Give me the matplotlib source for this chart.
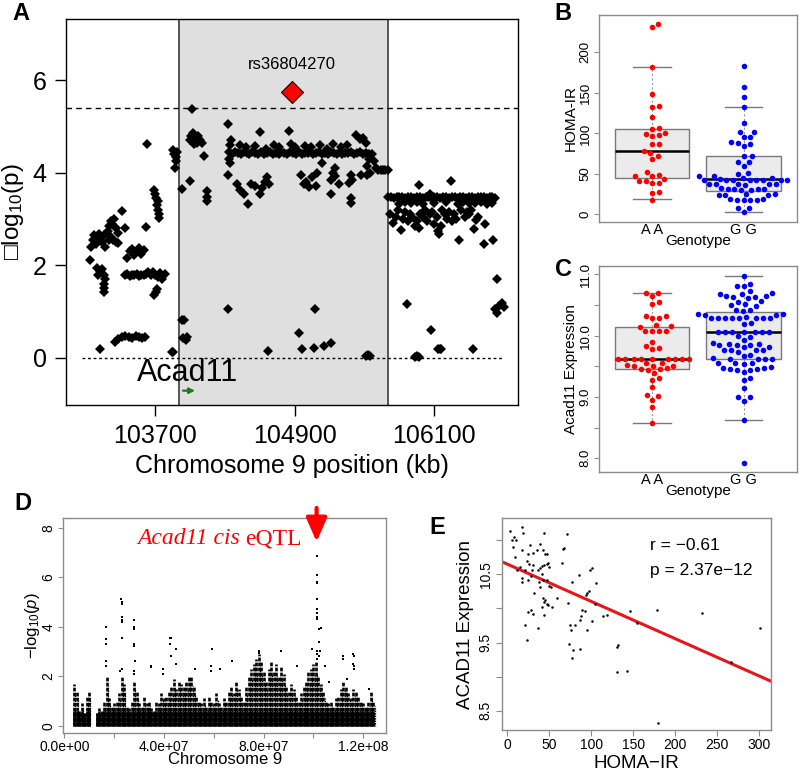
import matplotlib
matplotlib.use('Agg')
import matplotlib.pyplot as plt
import numpy as np

plt.rcParams['font.family'] = ['Liberation Sans', 'DejaVu Sans']
plt.rcParams['mathtext.fontset'] = 'custom'
plt.rcParams['mathtext.rm'] = 'Liberation Sans'
plt.rcParams['mathtext.it'] = 'Liberation Sans:italic'

# ---------------- Panel A data (kb, -log10 p) ----------------
snp_pos = [
    103138, 103150, 103160, 103175, 103190, 103205, 103220, 103240, 103255, 103270,
    103195, 103210, 103225, 103240, 103255, 103265, 103260, 103258, 103262,
    103290, 103305, 103315, 103330, 103345, 103360, 103375, 103320, 103340, 103360, 103380, 103300,
    103410, 103440, 103455,
    103480, 103500, 103520, 103540, 103560, 103580, 103600,
    103440, 103460, 103480, 103500, 103520, 103540, 103560, 103580, 103600, 103620, 103640, 103660,
    103680, 103700, 103720, 103740, 103760, 103780,
    103625, 103620,
    103690, 103700, 103710, 103720, 103715, 103725, 103730, 103735,
    103690, 103705, 103715,
    103224, 103350, 103380, 103410, 103440, 103470, 103500, 103530, 103560, 103590, 103610,
    103840, 103855,
    103855, 103865, 103875, 103880, 103870, 103890,
    103930, 103930, 103950, 103940, 103960, 103975,
    103998, 104018,
    104000, 104010, 104025, 104040, 104055, 104070, 104085, 104100, 104030,
    104119, 104142, 104145, 104148,
    104322,
    104328, 104330, 104335, 104340, 104345, 104350, 104325,
    104360, 104385, 104410, 104435, 104460, 104485, 104510, 104535, 104560, 104585, 104610, 104635,
    104660, 104685, 104710, 104735, 104760, 104785, 104810, 104835, 104860, 104885, 104910, 104935,
    104960, 104985, 105010, 105035, 105060, 105085, 105110, 105135, 105160, 105185, 105210, 105235,
    105260, 105285, 105310, 105335, 105360, 105385, 105410, 105435, 105460, 105485, 105510, 105535,
    104430, 104480, 104600, 104560, 104650, 104720, 104760, 104850, 104870, 104900, 104990, 105040,
    105120, 105180, 105230, 105300, 105350, 105423, 105460, 105490, 105510,
    104400, 104430, 104460, 104500, 104520, 104560, 104600, 104620, 104640, 104660, 104680,
    104936, 104964, 105065, 105073, 105151, 105208, 104672,
    104950, 104980, 105000, 105020, 105050, 105093, 105080,
    105136, 105208, 105210, 105230, 105250, 105280, 105250,
    105366, 105380, 105394, 105380, 105385,
    105466, 105523, 105540, 105560, 105580, 105600, 105620, 105640, 105660, 105680, 105700, 105520, 105545,
    105509, 105530, 105550,
    105700, 105725, 105750, 105775, 105800, 105825, 105850, 105875, 105900, 105925, 105950, 105975,
    106000, 106025, 106050, 106075, 106100, 106125, 106150, 106175, 106200, 106225, 106250, 106275,
    106300, 106325, 106350, 106375, 106400, 106425, 106450, 106475, 106500, 106525, 106550, 106575,
    106600, 106625,
    105800, 105850, 105900, 105950, 106000, 106100, 106200, 106300, 106350, 106400, 106450, 106500,
    106550, 106600,
    105720, 105749, 105770, 105790, 105815, 105830, 105850, 105870, 105890, 105910, 105930, 105950,
    105966, 105980, 106000, 106020, 106040, 106060, 106080, 106100, 106120, 106128, 106140, 106157,
    106170, 106190, 106210, 106230, 106250, 106270, 106290, 106309, 106330, 106360, 106380, 106400,
    106420, 106438, 106460, 106480, 106524, 106540, 106604,
    105966, 106244, 106060,
    106638, 106624, 106640, 106660, 106680, 106696, 105867, 106071, 105936, 105950, 105965,
    106128, 106145, 106157, 106432,
]
snp_logp = [
    2.11, 2.40, 2.55, 2.65, 2.45, 2.62, 2.68, 2.50, 2.66, 2.40,
    1.93, 1.80, 1.88, 1.92, 1.80, 1.70, 1.60, 1.50, 1.42,
    2.75, 2.85, 2.95, 2.90, 3.00, 2.80, 2.70, 2.60, 2.55, 2.50, 2.48, 2.55,
    3.17, 2.80, 2.15,
    2.30, 2.35, 2.22, 2.30, 2.38, 2.25, 2.32,
    1.78, 1.82, 1.76, 1.80, 1.78, 1.82, 1.76, 1.80, 1.78, 1.82, 1.85, 1.78,
    1.86, 1.80, 1.75, 1.84, 1.70, 1.82,
    4.63, 2.83,
    3.62, 3.55, 3.45, 3.38, 3.30, 3.20, 3.10, 3.02,
    1.35, 1.42, 1.48,
    0.18, 0.35, 0.40, 0.45, 0.48, 0.45, 0.42, 0.47, 0.45, 0.42, 0.44,
    0.12, 0.13,
    4.50, 4.40, 4.35, 4.25, 4.10, 4.45,
    3.65, 0.82, 0.82, 0.42, 0.38, 0.45,
    3.83, 5.38,
    4.70, 4.80, 4.85, 4.75, 4.65, 4.80, 4.70, 4.65, 4.62,
    4.37, 3.60, 3.48, 3.38,
    1.06,
    5.06, 4.45, 4.30, 4.20, 4.60, 4.70, 3.95,
    4.40, 4.44, 4.42, 4.40, 4.45, 4.42, 4.40, 4.44, 4.42, 4.41, 4.44, 4.40,
    4.42, 4.45, 4.41, 4.43, 4.40, 4.44, 4.42, 4.40, 4.45, 4.42, 4.41, 4.44,
    4.40, 4.43, 4.42, 4.45, 4.40, 4.42, 4.44, 4.41, 4.43, 4.40, 4.44, 4.42,
    4.41, 4.45, 4.40, 4.43, 4.42, 4.44, 4.40, 4.42, 4.45, 4.41, 4.43, 4.40,
    4.60, 4.55, 4.88, 4.58, 4.52, 4.60, 4.55, 4.90, 4.62, 4.55, 4.58, 4.55,
    4.60, 4.52, 4.62, 4.55, 4.60, 4.82, 4.72, 4.75, 4.65,
    3.75, 3.62, 3.55, 3.32, 3.75, 3.72, 3.55, 3.68, 3.80, 3.90, 3.75,
    0.53, 0.20, 0.22, 1.06, 0.26, 0.33, 0.15,
    3.95, 3.75, 3.80, 3.70, 3.90, 4.00, 3.72,
    4.21, 3.55, 3.85, 4.00, 4.10, 3.75, 3.92,
    3.78, 3.95, 3.85, 3.45, 3.35,
    3.96, 4.15, 4.30, 4.40, 4.25, 4.10, 4.05, 4.05, 4.05, 4.05, 4.05, 3.95, 4.00,
    0.04, 0.05, 0.04,
    3.47, 3.48, 3.46, 3.47, 3.48, 3.47, 3.46, 3.48, 3.47, 3.46, 3.48, 3.47,
    3.46, 3.48, 3.47, 3.46, 3.48, 3.47, 3.46, 3.47, 3.48, 3.46, 3.47, 3.48,
    3.46, 3.47, 3.48, 3.46, 3.47, 3.48, 3.46, 3.47, 3.48, 3.47, 3.46, 3.48,
    3.47, 3.46,
    3.33, 3.36, 3.34, 3.37, 3.32, 3.35, 3.36, 3.33, 3.37, 3.34, 3.35, 3.36,
    3.33, 3.35,
    3.10, 2.91, 3.05, 3.20, 2.77, 3.00, 3.15, 2.95, 3.10, 3.05, 2.85, 2.95,
    2.80, 3.10, 3.05, 3.20, 2.95, 3.10, 3.15, 2.90, 3.05, 2.75, 2.68, 2.85,
    3.20, 3.10, 3.00, 3.15, 2.95, 3.10, 3.00, 2.55, 3.20, 3.05, 3.15, 3.10,
    3.20, 2.78, 2.98, 3.05, 2.46, 2.90, 2.55,
    3.73, 3.83, 3.55,
    1.71, 1.05, 0.96, 1.12, 1.18, 1.10, 1.17, 0.61, 0.02, 0.04, 0.02,
    0.18, 0.20, 0.18, 0.18,
]
lead_snp = 'rs36804270'
lead_pos, lead_logp = 104875, 5.75
region_start, region_end = 103904, 105700
sig_threshold = 5.39
gene_name = 'Acad11'
gene_start, gene_end = 103938, 104042

# ---------------- Panel B / C data ----------------
genotypes = ['A A', 'G G']
homa_AA = [231.7, 234.6, 181.5, 148.6, 133, 134, 119.8, 106, 106.6, 100.8, 99.2, 96.7, 97.5,
           86.8, 86.8, 78.6, 76.1, 72, 68.3, 52.7, 47.3, 47.3, 49, 41.2, 41.2, 38.3, 39, 43.2,
           27.6, 25.9, 17.7]
homa_GG = [183, 156.8, 144.4, 133, 113.2, 102, 102, 95, 95, 89.7, 88.5, 84.4, 86.4, 72, 72,
           65, 65, 60, 50.6, 49.8, 47.7, 47.3, 44.4, 42.8, 42.0, 43.6, 42.8, 42.0, 42.0, 42.0,
           42.4, 42.4, 44.4, 37.5, 37, 36.5, 37, 37.5, 37, 31, 30.5, 31.5, 30, 31, 31.5, 32.5,
           24, 23.5, 24, 25, 25, 18.5, 18, 17.5, 18, 18, 18.5, 8, 7.5, 3.3]
homa_box = {'A A': (18.5, 44.4, 78.6, 105.8, 181.5), 'G G': (3.3, 29.2, 43.2, 72.0, 133.0)}

expr_AA = [10.70, 10.65, 10.70, 10.52, 10.54, 10.32, 10.28, 10.32, 10.28, 10.17, 10.16, 10.14,
           10.08, 10.07, 10.07, 10.07, 9.90, 9.83, 9.79, 9.78,
           9.625, 9.625, 9.625, 9.625, 9.625, 9.625, 9.625, 9.625, 9.625,
           9.52, 9.50, 9.55, 9.51, 9.51, 9.56, 9.45, 9.44, 9.46, 9.47, 9.39, 9.30, 9.28, 9.16,
           9.03, 9.02, 8.95, 8.83, 8.58]
expr_GG = [10.97, 10.81, 10.81, 10.84, 10.69, 10.68, 10.68, 10.72, 10.63, 10.56, 10.63, 10.61,
           10.64, 10.64, 10.55, 10.50, 10.51, 10.42, 10.40, 10.48, 10.42, 10.35, 10.29, 10.30,
           10.28, 10.28, 10.28, 10.33, 10.28, 10.28, 10.28, 10.29, 10.34, 10.35, 10.20, 10.19,
           10.06, 10.05, 10.05, 10.05, 10.05, 10.05, 10.05, 10.00, 9.97, 9.93, 9.88, 9.84, 9.81,
           9.82, 9.85, 9.84, 9.87, 9.86, 9.76, 9.76, 9.73, 9.76, 9.76, 9.63, 9.62, 9.62, 9.66,
           9.69, 9.62, 9.62, 9.55, 9.54, 9.55, 9.55, 9.46, 9.47, 9.47, 9.48, 9.46, 9.44, 9.40,
           9.44, 9.28, 9.31, 9.15, 8.99, 9.00, 8.93, 8.63, 7.92]
expr_box = {'A A': (8.576, 9.457, 9.625, 10.136, 10.696), 'G G': (8.63, 9.62, 10.06, 10.38, 10.97)}

# ---------------- Panel D data (Manhattan, chromosome 9) ----------------
manh_bin_mb = [4, 5, 6, 7, 8, 9, 10, 13, 14, 15, 16, 17, 18, 19, 20, 21, 22, 23, 24, 25, 26, 27,
               28, 29, 30, 31, 32, 33, 34, 35, 36, 37, 38, 39, 40, 41, 42, 43, 44, 45, 46, 47, 48,
               49, 50, 51, 52, 53, 54, 55, 56, 57, 58, 59, 60, 61, 62, 63, 64, 65, 66, 67, 68, 69,
               70, 71, 72, 73, 74, 75, 76, 77, 78, 79, 80, 81, 82, 83, 84, 85, 86, 87, 88, 89, 90,
               91, 92, 93, 94, 95, 96, 97, 98, 99, 100, 101, 102, 103, 104, 105, 106, 107, 108,
               109, 110, 111, 112, 113, 114, 115, 116, 117, 118, 119, 120, 121, 122, 123, 124]
manh_bin_top = [1.7, 1.4, 0.6, 0.9, 0.5, 1.2, 1.4, 0.5, 0.7, 0.6, 1.0, 2.0, 1.1, 0.8, 0.9, 1.0,
                1.3, 2.0, 1.7, 0.8, 0.7, 1.0, 1.8, 1.4, 0.9, 0.8, 1.2, 0.9, 1.0, 0.7, 0.6, 1.0,
                0.9, 1.3, 1.1, 1.2, 1.4, 1.6, 1.9, 1.5, 1.8, 1.7, 1.6, 1.8, 2.0, 2.0, 1.6, 1.2,
                1.0, 0.9, 1.1, 0.8, 1.2, 1.0, 0.9, 1.3, 0.9, 0.8, 1.1, 1.0, 1.4, 1.6, 1.3, 1.8,
                1.5, 1.2, 1.0, 1.6, 2.0, 2.3, 2.5, 2.7, 2.9, 2.6, 2.2, 1.8, 2.3, 2.6, 2.2, 2.5,
                2.0, 2.4, 2.1, 1.6, 1.4, 1.7, 1.5, 1.2, 1.0, 1.3, 1.6, 1.8, 2.2, 2.3, 2.5, 2.6,
                2.0, 1.7, 1.4, 1.0, 0.9, 1.0, 0.8, 1.1, 1.2, 1.5, 1.8, 1.6, 1.3, 1.1, 1.5, 1.4,
                1.2, 1.0, 0.9, 0.8, 1.0, 1.4, 1.0]
manh_pt_mb = [16.7, 16.7, 16.8, 16.7, 16.8, 22.5, 22.9, 23.0, 23.1, 23.0, 23.2, 23.1, 23.3, 23.0,
              28.0, 28.1, 28.0, 28.1, 28.0, 28.2, 28.0, 28.1, 34.7, 34.8, 39.5, 39.6,
              42.5, 42.8, 42.6, 42.7, 44.7, 44.8, 52.5, 58.8, 58.9, 59.2, 62.4, 67.2, 78.0, 78.3,
              86.8, 93.5, 99.6, 101.5, 101.5, 101.5, 101.6, 101.5, 101.6, 101.5, 101.6, 101.5,
              101.4, 101.6, 101.5, 102.4, 102.4, 102.5, 102.4, 103.2, 104.5, 106.4, 111.9, 112.0,
              113.5, 116.0, 116.1, 116.0, 116.2, 116.1, 122.3]
manh_pt_logp = [4.0, 3.5, 3.3, 2.6, 2.4, 2.2, 5.1, 5.0, 4.9, 4.4, 4.25, 4.2, 3.55, 2.3,
                4.25, 4.0, 3.9, 3.3, 3.2, 2.6, 2.2, 2.1, 2.4, 2.35, 2.3, 2.1,
                3.55, 3.55, 3.3, 2.8, 3.1, 2.5, 2.3, 2.2, 2.4, 3.1, 2.3, 2.6, 3.0, 2.95,
                3.0, 2.4, 3.1, 6.85, 6.1, 5.8, 5.75, 5.1, 4.7, 4.55, 4.4, 4.3, 2.9, 2.7, 3.0,
                3.9, 3.4, 3.0, 2.8, 3.95, 2.4, 1.75, 2.8, 2.7,
                1.9, 2.9, 2.8, 2.5, 2.4, 2.3, 1.5]
eqtl_label = ('Acad11 cis', 'eQTL')

# ---------------- Panel E data ----------------
homa_ir = [3.2, 5.2, 7.9, 10.3, 7.2, 9.1, 17.1, 19, 11.1, 15, 17.9, 17.9, 17.9, 23, 25, 27, 25, 21,
           26.2, 29, 31, 27.8, 32.2, 25, 27.8, 31, 21, 23, 35, 38.9, 43, 43.7, 45, 47, 37, 38.9,
           41, 43.7, 46.9, 49, 50, 42, 38, 38.9, 41, 47, 50, 51.6, 43, 45, 43.7, 47, 49, 41, 52.8,
           43.7, 37, 59.6, 64.8, 66, 67.5, 70.7, 72.7, 73.9, 74.7, 75.5, 76.7, 77.9, 76.7, 80.6,
           86.6, 87.4, 85.8, 86.6, 88.6, 92.6, 93.8, 95.4, 97.7, 98.5, 100.5, 95.4, 100.5, 104.5,
           105.7, 114.4, 118.4, 132.3, 130.3, 131.1, 143, 146.2, 155, 178.8, 180, 231.6, 266.6,
           301, 30.2]
acad11_expr = [11.14, 11.0, 11.04, 11.0, 10.9, 10.76, 11.2, 11.1, 10.57, 10.6, 10.85, 10.44,
               10.38, 10.7, 10.8, 10.93, 10.42, 10.56, 10.65, 10.56, 10.64, 10.47, 10.23, 9.95,
               9.97, 9.92, 9.76, 9.54, 10.86, 10.95, 10.86, 11.1, 10.8, 10.8, 10.57, 10.59,
               10.62, 10.64, 10.65, 10.66, 10.6, 10.41, 10.39, 10.31, 10.5, 10.42, 10.33, 10.32,
               10.15, 10.12, 10.1, 10.07, 10.05, 10.02, 10.02, 9.9, 9.71, 10.15, 10.66, 10.87,
               10.88, 11.09, 10.08, 9.48, 9.76, 9.68, 10.39, 9.39, 9.27, 9.76, 9.83, 9.89, 10.49,
               9.41, 9.97, 9.96, 10.2, 10.22, 10.25, 10.57, 10.59, 9.69, 9.82, 10.06, 10.37,
               9.89, 9.9, 9.46, 9.44, 9.07, 9.08, 9.96, 9.78, 9.98, 8.32, 9.94, 9.22, 9.72, 10.81]
fit_intercept, fit_slope = 10.649, -0.005455
corr_text = ['r = \u22120.61', 'p = 2.37e\u221212']

# =====================================================================
fig = plt.figure(figsize=(8, 7.75), dpi=100)
GRAY = '#8c8c8c'


def swarm_x(ax, values, center, diam_px):
    yv = np.asarray(values, float)
    pts = ax.transData.transform(np.column_stack([np.full_like(yv, center), yv]))
    ypix = pts[:, 1]
    x0 = pts[0, 0]
    order = np.argsort(ypix, kind='stable')
    px_l, py_l = [], []
    xoff = np.zeros(len(yv))
    for i in order:
        y = ypix[i]
        cands = [0.0]
        for a, b in zip(px_l, py_l):
            dy = abs(y - b)
            if dy < diam_px:
                dx = np.sqrt(diam_px ** 2 - dy ** 2)
                cands += [a + dx, a - dx]
        cands.sort(key=abs)
        chosen = cands[-1]
        for c in cands:
            if all((c - a) ** 2 + (y - b) ** 2 >= diam_px ** 2 - 1e-6 for a, b in zip(px_l, py_l)):
                chosen = c
                break
        px_l.append(chosen)
        py_l.append(y)
        xoff[i] = chosen
    back = ax.transData.inverted().transform(np.column_stack([x0 + xoff, ypix]))
    return back[:, 0]


# ---------------- Panel A ----------------
axA = fig.add_axes([0.0825, 0.4774, 0.565, 0.498])
axA.set_xlim(102932, 106820)
axA.set_ylim(-1.02, 7.32)
axA.axvspan(region_start, region_end, color='#dfdfdf', zorder=0, lw=0)
for xv in (region_start, region_end):
    axA.axvline(xv, color='#555555', lw=1.4, zorder=1)
axA.axhline(sig_threshold, color='k', lw=1, ls=(0, (4, 3)), zorder=1)
axA.plot([103067, 106682], [0, 0], color='k', lw=1, ls=(0, (2, 2)), zorder=1)
axA.plot(snp_pos, snp_logp, 'D', ms=5.2, color='k', mew=0, zorder=3)
axA.plot([lead_pos], [lead_logp], 'D', ms=11.5, mfc='red', mec='k', mew=0.8, zorder=4)
axA.text(lead_pos, 6.33, lead_snp, ha='center', va='center', fontsize=12)
axA.text(103981, -0.33, gene_name, ha='center', va='center', fontsize=22)
axA.annotate('', xy=(gene_end, -0.71), xytext=(gene_start, -0.71),
             arrowprops=dict(arrowstyle='-|>', color='#1f7a1f', lw=1.6, mutation_scale=8,
                             shrinkA=0, shrinkB=0))
axA.set_xticks([103700, 104900, 106100])
axA.set_yticks([0, 2, 4, 6])
axA.tick_params(length=8, width=1, labelsize=18, pad=6)
for s in axA.spines.values():
    s.set_linewidth(1)
axA.set_xlabel('Chromosome 9 position (kb)', fontsize=18)
axA.xaxis.set_label_coords(0.5, -0.128)
axA.set_ylabel('\u25a1log$_{10}$(p)', fontsize=17.5)
axA.yaxis.set_label_coords(-0.088, 0.5)


def box_panel(ax, box, vals, yticks, ytl, ylabel, ylim, diam):
    ax.set_xlim(0.42, 2.58)
    ax.set_ylim(*ylim)
    stats = []
    for g in genotypes:
        lo, q1, med, q3, hi = box[g]
        stats.append(dict(whislo=lo, q1=q1, med=med, q3=q3, whishi=hi, fliers=[]))
    ax.bxp(stats, positions=[1, 2], widths=0.815, patch_artist=True, showfliers=False,
           boxprops=dict(facecolor='#ebebeb', edgecolor='#7a7a7a', lw=1),
           medianprops=dict(color='k', lw=1.8),
           whiskerprops=dict(color='#9a9a9a', lw=0.8, ls=(0, (2, 2))),
           capprops=dict(color='#7a7a7a', lw=1), capwidths=0.41)
    for pos, (v, col) in enumerate(zip(vals, ['#ff0000', '#0000ff']), start=1):
        xs = swarm_x(ax, v, pos, diam)
        ax.plot(xs, v, 'o', ms=4.0, color=col, mew=0, zorder=5)
    ax.set_xticks([1, 2])
    ax.set_xticklabels(genotypes, fontsize=10.5)
    ax.tick_params(axis='x', length=0, pad=1)
    ax.set_yticks(yticks)
    ax.set_yticklabels(ytl, fontsize=9.5, rotation=90, va='center')
    ax.tick_params(axis='y', length=3.5, width=0.8, color=GRAY, pad=2)
    for s in ax.spines.values():
        s.set_color(GRAY)
        s.set_linewidth(1)
    ax.set_xlabel('Genotype', fontsize=11, labelpad=-2)
    ax.set_ylabel(ylabel, fontsize=11, labelpad=1)


axB = fig.add_axes([0.749, 0.7139, 0.2467, 0.2667])
box_panel(axB, homa_box, [homa_AA, homa_GG], [0, 50, 100, 150, 200],
          ['0', '50', '100', '150', '200'], 'HOMA-IR', (-9, 246), 6.6)

axC = fig.add_axes([0.749, 0.3914, 0.2467, 0.2654])
box_panel(axC, expr_box, [expr_AA, expr_GG], [8.0, 8.5, 9.0, 9.5, 10.0, 10.5, 11.0],
          ['8.0', '', '9.0', '', '10.0', '', '11.0'], 'Acad11 Expression', (7.78, 11.135), 7.0)

# ---------------- Panel D ----------------
axD = fig.add_axes([0.0791, 0.0538, 0.4034, 0.2774])
axD.set_xlim(-0.04e7, 12.91e7)
axD.set_ylim(-0.31, 8.38)
bx = np.array(manh_bin_mb) * 1e6
top = np.array(manh_bin_top)
axD.vlines(bx, 0, np.minimum(top, 0.6), color='k', lw=1.9, zorder=2)
axD.vlines(bx, 0, top, color='k', lw=1.9, zorder=2, linestyles=[(0, (1.4, 0.5))])
axD.vlines(bx + 0.5e6, 0, top * 0.8, color='k', lw=0.9, zorder=2, linestyles=[(0.5, (1.2, 0.8))])
axD.plot(np.array(manh_pt_mb) * 1e6, manh_pt_logp, 's', ms=1.8, color='k', mew=0, zorder=3)
axD.set_xticks([0, 4e7, 8e7, 1.2e8])
axD.set_xticklabels(['0.0e+00', '4.0e+07', '8.0e+07', '1.2e+08'], fontsize=10)
axD.set_xticks([2e7, 6e7, 1e8], minor=True)
axD.tick_params(axis='x', which='both', length=3.5, width=0.8, color=GRAY, pad=1)
axD.set_yticks([0, 2, 4, 6, 8])
axD.set_yticklabels(['0', '2', '4', '6', '8'], fontsize=10, rotation=90, va='center')
axD.tick_params(axis='y', length=3.5, width=0.8, color=GRAY, pad=2)
for s in axD.spines.values():
    s.set_color(GRAY)
    s.set_linewidth(1)
axD.set_xlabel('Chromosome 9', fontsize=12, labelpad=-1)
axD.set_ylabel(r'$-\mathrm{log}_{10}(\mathit{p})$', fontsize=12, labelpad=0)
t1 = axD.text(2.917e7, 7.33, eqtl_label[0], color='red', fontsize=17,
              family='Liberation Serif', style='italic', ha='left', va='baseline')
fig.canvas.draw()
bb = t1.get_window_extent()
xr = axD.transData.inverted().transform((bb.x1 + 5, 0))[0]
axD.text(xr, 7.33, eqtl_label[1], color='red', fontsize=17, family='Liberation Serif',
         ha='left', va='baseline')
axD.annotate('', xy=(1.0125e8, 7.43), xytext=(1.0125e8, 8.8), annotation_clip=False,
             arrowprops=dict(arrowstyle='-|>,head_width=0.35,head_length=0.8', color='red',
                             lw=3, mutation_scale=18, shrinkA=0, shrinkB=0))

# ---------------- Panel E ----------------
axE = fig.add_axes([0.6271, 0.0581, 0.3366, 0.2731])
axE.set_xlim(-6.7, 314.3)
axE.set_ylim(8.22, 11.32)
axE.plot(homa_ir, acad11_expr, 'o', ms=1.8, color='k', mew=0, zorder=3)
xl = np.array(axE.get_xlim())
axE.plot(xl, fit_intercept + fit_slope * xl, color='#e8161b', lw=2.2, zorder=2)
axE.text(0.55, 0.87, corr_text[0], transform=axE.transAxes, fontsize=12.5, va='center')
axE.text(0.55, 0.755, corr_text[1], transform=axE.transAxes, fontsize=12.5, va='center')
axE.set_xticks([0, 50, 100, 150, 200, 250, 300])
axE.set_xticklabels(['0', '50', '100', '150', '200', '250', '300'], fontsize=10)
axE.tick_params(axis='x', length=4, width=0.8, color=GRAY, pad=2)
axE.set_yticks([8.5, 9.0, 9.5, 10.0, 10.5, 11.0])
axE.set_yticklabels(['8.5', '', '9.5', '', '10.5', ''], fontsize=10, rotation=90, va='center')
axE.tick_params(axis='y', length=4.5, width=0.8, color=GRAY, pad=2)
for s in axE.spines.values():
    s.set_color(GRAY)
    s.set_linewidth(1)
axE.set_xlabel('HOMA\u2212IR', fontsize=13.5, labelpad=2)
axE.set_ylabel('ACAD11 Expression', fontsize=13.5, labelpad=3)

# ---------------- Panel letters ----------------
for lab, (px, py) in {'A': (21, 13.5), 'B': (563, 13.5), 'C': (563, 270),
                      'D': (23, 504), 'E': (437, 528)}.items():
    fig.text(px / 800, 1 - py / 775, lab, fontsize=17, fontweight='bold', ha='center', va='center')

fig.savefig('out.png', dpi=100)
